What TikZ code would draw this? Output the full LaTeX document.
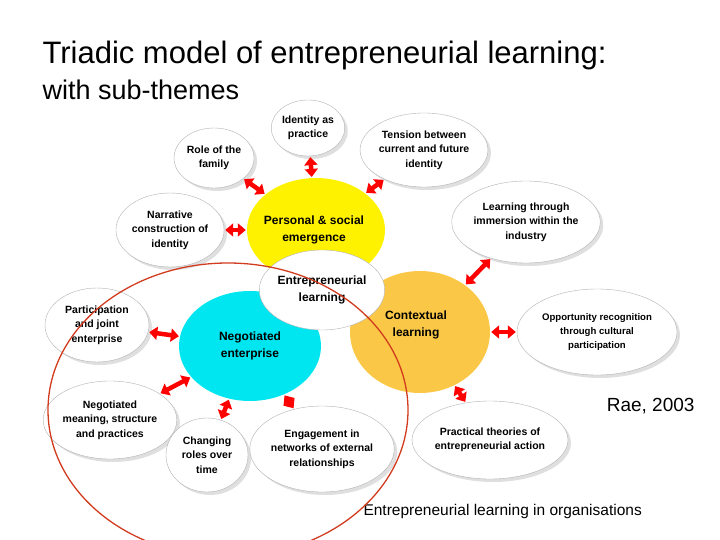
\documentclass[tikz,border=0pt]{standalone}
\usepackage{fontspec}
\setmainfont{Liberation Sans}
\usetikzlibrary{shapes.geometric,shadows,arrows.meta}
\definecolor{ctxorange}{RGB}{250,200,70}
\definecolor{negcyan}{RGB}{0,230,240}
\definecolor{encl}{RGB}{210,60,30}
\begin{document}
\begin{tikzpicture}[x=1pt,y=-1pt,
 sat/.style={ellipse,draw=gray!60,fill=white,drop shadow={shadow xshift=3pt,shadow yshift=-3pt,fill=gray!50},inner sep=0pt,align=center,font=\bfseries\fontsize{10.5}{14.5}\selectfont},
 hub/.style={ellipse,inner sep=0pt,align=center,font=\bfseries\fontsize{12}{17}\selectfont},
 dbl/.style={draw=red,line width=4.5pt,{Triangle[length=8pt,width=13pt]}-{Triangle[length=8pt,width=13pt]},shorten <=1pt,shorten >=1pt}]
\useasboundingbox (0,0) rectangle (720,540);
\node[anchor=west,font=\fontsize{31}{36}\selectfont] (t1) at (39,55) {Triadic model of entrepreneurial learning:};
\node[anchor=west,font=\fontsize{27}{32}\selectfont] (t2) at (39,90) {with sub-themes};
\node[anchor=east,font=\fontsize{19}{22}\selectfont] (rae) at (698,406) {Rae, 2003};
\node[anchor=west,font=\fontsize{15.5}{18}\selectfont] (bot) at (360,511) {Entrepreneurial learning in organisations};
% hubs
\node[hub,fill=yellow,minimum width=138pt,minimum height=104pt] (pers) at (316,230) {};
\node[hub,anchor=center] (perst) at (314,230) {Personal \& social\\emergence};
\node[hub,fill=ctxorange,minimum width=140pt,minimum height=122pt] (ctx) at (420,332) {};
\node[hub] (ctxt) at (416,325) {Contextual\\learning};
\node[hub,fill=negcyan,minimum width=142pt,minimum height=110pt] (neg) at (250,346) {Negotiated\\enterprise};
\node[hub,fill=white,draw=gray!60,minimum width=112pt,minimum height=80pt] (ent) at (322,290) {Entrepreneurial\\learning};
% satellites
\node[sat,minimum width=72pt,minimum height=56pt] (s1) at (308,128) {Identity as\\practice};
\node[sat,minimum width=80pt,minimum height=60pt] (s2) at (214,158) {Role of the\\family};
\node[sat,minimum width=114pt,minimum height=74pt] (s3) at (424,150) {Tension between\\current and future\\identity};
\node[sat,minimum width=106pt,minimum height=74pt] (s4) at (170,230) {Narrative\\construction of\\identity};
\node[sat,minimum width=128pt,minimum height=82pt] (s5) at (526,222) {Learning through\\immersion within the\\industry};
\node[sat,minimum width=104pt,minimum height=74pt] (s6) at (97,325) {Participation\\and joint\\enterprise};
\node[sat,minimum width=160pt,minimum height=86pt,font=\bfseries\fontsize{9.6}{14}\selectfont] (s7) at (597,332) {Opportunity recognition\\through cultural\\participation};
\node[sat,minimum width=116pt,minimum height=78pt] (s8) at (110,420) {Negotiated\\meaning, structure\\and practices};
\node[sat,minimum width=82pt,minimum height=74pt] (s9) at (207,455) {Changing\\roles over\\time};
\node[sat,minimum width=124pt,minimum height=86pt] (s10) at (322,449) {Engagement in\\networks of external\\relationships};
\node[sat,minimum width=138pt,minimum height=78pt] (s11) at (490,440) {Practical theories of\\entrepreneurial action};
% arrows
\foreach \s/\h in {s1/pers,s2/pers,s3/pers,s4/pers,s5/ctx,s7/ctx,s11/ctx,s6/neg,s8/neg,s9/neg,s10/neg}
  \draw[dbl] (\s) -- (\h);
% red enclosure
\begin{scope}
\clip (0,0) rectangle (720,540);
\draw[encl,line width=1.3pt] (228,410) ellipse [x radius=180,y radius=147];
\end{scope}
\end{tikzpicture}
\end{document}
